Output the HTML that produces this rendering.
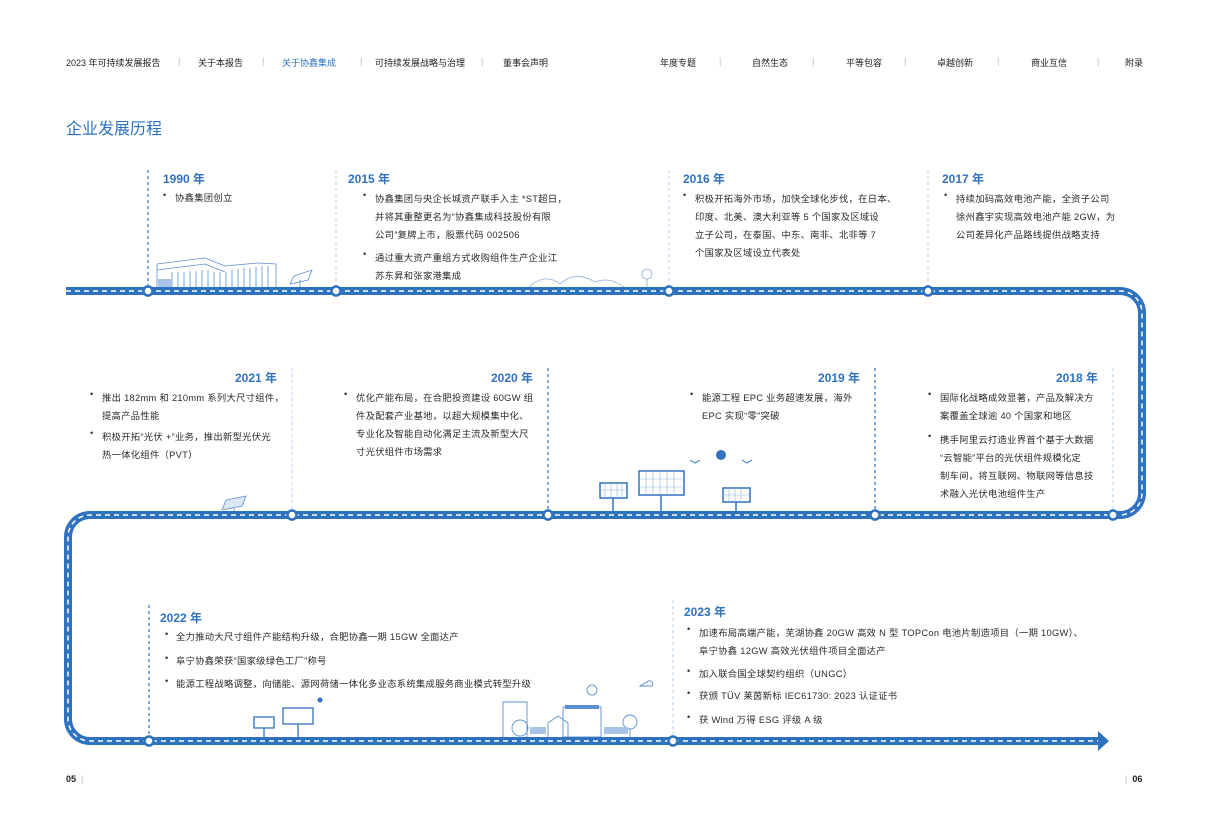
<!DOCTYPE html>
<html><head><meta charset="utf-8">
<style>
body{margin:0;width:1209px;height:826px;background:#fff;position:relative;overflow:hidden;font-family:"Liberation Sans","Noto Sans CJK SC",sans-serif;color:#333;}
.a{position:absolute;white-space:nowrap;}
.h{font-size:9px;top:56px;color:#222;}
.sep{font-size:9px;top:56px;color:#bbb;}
.y{font-size:12px;color:#2f72c0;font-weight:bold;}
.t{font-size:9.3px;color:#2a2a2a;letter-spacing:0.3px;}
.b{font-size:9.3px;color:#333;}
</style></head><body>
<div class="a h" style="left:66px">2023 年可持续发展报告</div>
<div class="a sep" style="left:178px">|</div>
<div class="a h" style="left:198px">关于本报告</div>
<div class="a sep" style="left:262px">|</div>
<div class="a h" style="left:282px;color:#2f72c0">关于协鑫集成</div>
<div class="a sep" style="left:360px">|</div>
<div class="a h" style="left:375px">可持续发展战略与治理</div>
<div class="a sep" style="left:481px">|</div>
<div class="a h" style="left:503px">董事会声明</div>
<div class="a h" style="left:660px">年度专题</div>
<div class="a sep" style="left:719px">|</div>
<div class="a h" style="left:752px">自然生态</div>
<div class="a sep" style="left:812px">|</div>
<div class="a h" style="left:846px">平等包容</div>
<div class="a sep" style="left:904px">|</div>
<div class="a h" style="left:937px">卓越创新</div>
<div class="a sep" style="left:997px">|</div>
<div class="a h" style="left:1031px">商业互信</div>
<div class="a sep" style="left:1097px">|</div>
<div class="a h" style="left:1125px">附录</div>
<div class="a" style="left:66px;top:115px;font-size:16px;color:#2f72c0">企业发展历程</div>

<svg class="a" style="left:0;top:0" width="1209" height="826">
<g stroke-width="1.2" stroke-dasharray="3,3" fill="none">
<line x1="148" y1="170" x2="148" y2="287" stroke="#2f72c0"/>
<line x1="336" y1="170" x2="336" y2="287" stroke="#c5d7ee"/>
<line x1="669" y1="170" x2="669" y2="287" stroke="#c5d7ee"/>
<line x1="928" y1="170" x2="928" y2="287" stroke="#c5d7ee"/>
<line x1="292" y1="368" x2="292" y2="511" stroke="#c5d7ee"/>
<line x1="548" y1="368" x2="548" y2="511" stroke="#2f72c0"/>
<line x1="875" y1="368" x2="875" y2="511" stroke="#2f72c0"/>
<line x1="1113" y1="368" x2="1113" y2="511" stroke="#c5d7ee"/>
<line x1="149" y1="605" x2="149" y2="737" stroke="#2f72c0"/>
<line x1="673" y1="600" x2="673" y2="737" stroke="#c5d7ee"/>
</g>
<g stroke="#5b8fd0" stroke-width="0.8" fill="none">
<path d="M157,264 L205,258 L225,266 L258,263 L276,264 L276,288 M157,264 V288 M157,270 L205,264 L225,272"/>
<path d="M172,272 V288 M178,272 V288 M184,272 V288 M190,271 V288 M196,271 V288 M202,270 V288 M208,270 V288 M214,272 V288 M220,272 V288 M226,272 V288 M232,270 V288 M238,269 V288 M244,268 V288 M250,268 V288 M256,267 V288 M262,266 V288 M268,266 V288"/>
<path d="M294,276 L312,270 L308,280 L290,284Z M300,280 V288"/>
</g>
<rect x="158" y="279" width="14" height="9" fill="#a8c3e6"/>
<g stroke="#8fb0dc" stroke-width="0.8" fill="none">
<path d="M528,288 Q545,272 560,284 Q575,270 595,282 Q610,276 625,288"/>
<circle cx="647" cy="274" r="5"/><line x1="647" y1="279" x2="647" y2="288"/>
</g>
<g stroke="#5b8fd0" stroke-width="0.8" fill="#dbe7f6"><path d="M226,500 L246,496 L242,506 L222,510Z"/><line x1="234" y1="508" x2="234" y2="512"/></g>
<g stroke="#2f72c0" stroke-width="1.5" fill="#fff">
<rect x="600" y="483" width="27" height="15"/><line x1="613" y1="498" x2="613" y2="512"/>
<rect x="639" y="471" width="45" height="24"/><line x1="661" y1="495" x2="661" y2="512"/>
<rect x="723" y="488" width="27" height="14"/><line x1="736" y1="502" x2="736" y2="512"/>
</g>
<g stroke="#8fb0dc" stroke-width="0.6">
<path d="M605,483V498M611,483V498M617,483V498M622,483V498M600,490H627M646,471V495M653,471V495M660,471V495M667,471V495M674,471V495M639,479H684M639,487H684M729,488V502M735,488V502M741,488V502M723,495H750"/>
</g>
<circle cx="721" cy="455" r="5" fill="#2f72c0"/>
<path d="M690,460 l5,3 l5,-3 M742,460 l5,3 l5,-3" stroke="#2f72c0" fill="none" stroke-width="1"/>
<g stroke="#2f72c0" stroke-width="1.3" fill="#fff">
<rect x="254" y="717" width="20" height="11"/><line x1="264" y1="728" x2="264" y2="737"/>
<rect x="283" y="708" width="30" height="16"/><line x1="298" y1="724" x2="298" y2="737"/>
</g>
<circle cx="320" cy="700" r="2.5" fill="#2f72c0"/>
<g stroke="#5b8fd0" stroke-width="0.9" fill="none">
<path d="M503,737 V702 H527 V737"/><rect x="563" y="707" width="38" height="30"/>
<path d="M548,737 V723 L558,716 L568,723 V737"/>
<circle cx="520" cy="728" r="8"/><circle cx="630" cy="722" r="7"/><line x1="630" y1="729" x2="630" y2="737"/>
<circle cx="592" cy="690" r="5"/><path d="M640,686 h12 a3,3 0 0 0 -5,-4 z"/>
</g>
<rect x="530" y="727" width="16" height="7" fill="#a8c3e6"/><rect x="604" y="727" width="24" height="7" fill="#a8c3e6"/>
<rect x="565" y="705" width="34" height="4" fill="#5b8fd0"/>
<path d="M66,291 H1120 A22,22 0 0 1 1142,313 V493 A22,22 0 0 1 1120,515 H90 A22,22 0 0 0 68,537 V719 A22,22 0 0 0 90,741 H1100" stroke="#2f72c0" stroke-width="8" fill="none"/>
<path d="M66,291 H1120 A22,22 0 0 1 1142,313 V493 A22,22 0 0 1 1120,515 H90 A22,22 0 0 0 68,537 V719 A22,22 0 0 0 90,741 H1098" stroke="#fff" stroke-width="1.5" stroke-dasharray="5,4" fill="none"/>
<polygon points="1098,731 1109,741 1098,751" fill="#2f72c0"/>
<g fill="#fff" stroke="#2f72c0" stroke-width="2.5">
<circle cx="148" cy="291" r="4.5"/><circle cx="336" cy="291" r="4.5"/><circle cx="669" cy="291" r="4.5"/><circle cx="928" cy="291" r="4.5"/>
<circle cx="292" cy="515" r="4.5"/><circle cx="548" cy="515" r="4.5"/><circle cx="875" cy="515" r="4.5"/><circle cx="1113" cy="515" r="4.5"/>
<circle cx="149" cy="741" r="4.5"/><circle cx="673" cy="741" r="4.5"/>
</g>
</svg>

<div class="a y" style="left:163px;top:170px">1990 年</div>
<div class="a b" style="left:163px;top:190px">•</div><div class="a t" style="left:175px;top:190px">协鑫集团创立</div>

<div class="a y" style="left:348px;top:170px">2015 年</div>
<div class="a b" style="left:363px;top:190px">•</div>
<div class="a t" style="left:375px;top:190px;line-height:18px">协鑫集团与央企长城资产联手入主 *ST超日，<br>并将其重整更名为“协鑫集成科技股份有限<br>公司”复牌上市，股票代码 002506</div>
<div class="a b" style="left:363px;top:249px">•</div>
<div class="a t" style="left:375px;top:249px;line-height:18px">通过重大资产重组方式收购组件生产企业江<br>苏东昇和张家港集成</div>

<div class="a y" style="left:683px;top:170px">2016 年</div>
<div class="a b" style="left:683px;top:190px">•</div>
<div class="a t" style="left:695px;top:190px;line-height:18px">积极开拓海外市场，加快全球化步伐，在日本、<br>印度、北美、澳大利亚等 5 个国家及区域设<br>立子公司，在泰国、中东、南非、北非等 7<br>个国家及区域设立代表处</div>

<div class="a y" style="left:942px;top:170px">2017 年</div>
<div class="a b" style="left:944px;top:190px">•</div>
<div class="a t" style="left:956px;top:190px;line-height:18px">持续加码高效电池产能，全资子公司<br>徐州鑫宇实现高效电池产能 2GW，为<br>公司差异化产品路线提供战略支持</div>

<div class="a y" style="left:235px;top:369px">2021 年</div>
<div class="a b" style="left:90px;top:389px">•</div>
<div class="a t" style="left:102px;top:389px;line-height:18px">推出 182mm 和 210mm 系列大尺寸组件，<br>提高产品性能</div>
<div class="a b" style="left:90px;top:428px">•</div>
<div class="a t" style="left:102px;top:428px;line-height:18px">积极开拓“光伏 +”业务，推出新型光伏光<br>热一体化组件（PVT）</div>

<div class="a y" style="left:491px;top:369px">2020 年</div>
<div class="a b" style="left:344px;top:389px">•</div>
<div class="a t" style="left:356px;top:389px;line-height:18px">优化产能布局，在合肥投资建设 60GW 组<br>件及配套产业基地，以超大规模集中化、<br>专业化及智能自动化满足主流及新型大尺<br>寸光伏组件市场需求</div>

<div class="a y" style="left:818px;top:369px">2019 年</div>
<div class="a b" style="left:690px;top:389px">•</div>
<div class="a t" style="left:702px;top:389px;line-height:18px">能源工程 EPC 业务超速发展，海外<br>EPC 实现“零”突破</div>

<div class="a y" style="left:1056px;top:369px">2018 年</div>
<div class="a b" style="left:928px;top:389px">•</div>
<div class="a t" style="left:940px;top:389px;line-height:18px">国际化战略成效显著，产品及解决方<br>案覆盖全球逾 40 个国家和地区</div>
<div class="a b" style="left:928px;top:431px">•</div>
<div class="a t" style="left:940px;top:431px;line-height:18px">携手阿里云打造业界首个基于大数据<br>“云智能”平台的光伏组件规模化定<br>制车间，将互联网、物联网等信息技<br>术融入光伏电池组件生产</div>

<div class="a y" style="left:160px;top:609px">2022 年</div>
<div class="a b" style="left:165px;top:629px">•</div><div class="a t" style="left:176px;top:629px">全力推动大尺寸组件产能结构升级，合肥协鑫一期 15GW 全面达产</div>
<div class="a b" style="left:165px;top:653px">•</div><div class="a t" style="left:176px;top:653px">阜宁协鑫荣获“国家级绿色工厂”称号</div>
<div class="a b" style="left:165px;top:676px">•</div><div class="a t" style="left:176px;top:676px">能源工程战略调整，向储能、源网荷储一体化多业态系统集成服务商业模式转型升级</div>

<div class="a y" style="left:684px;top:603px">2023 年</div>
<div class="a b" style="left:687px;top:624px">•</div>
<div class="a t" style="left:699px;top:624px;line-height:18px">加速布局高端产能，芜湖协鑫 20GW 高效 N 型 TOPCon 电池片制造项目（一期 10GW）、<br>阜宁协鑫 12GW 高效光伏组件项目全面达产</div>
<div class="a b" style="left:687px;top:666px">•</div><div class="a t" style="left:699px;top:666px">加入联合国全球契约组织（UNGC）</div>
<div class="a b" style="left:687px;top:688px">•</div><div class="a t" style="left:699px;top:688px">获颁 TÜV 莱茵新标 IEC61730: 2023 认证证书</div>
<div class="a b" style="left:687px;top:712px">•</div><div class="a t" style="left:699px;top:712px">获 Wind 万得 ESG 评级 A 级</div>

<div class="a" style="left:66px;top:774px;font-size:9px;font-weight:bold;color:#222">05 <span style="color:#bbb;font-weight:normal">&nbsp;|</span></div>
<div class="a" style="left:1125px;top:774px;font-size:9px;font-weight:bold;color:#222"><span style="color:#bbb;font-weight:normal">|&nbsp;&nbsp;</span>06</div>
</body></html>
